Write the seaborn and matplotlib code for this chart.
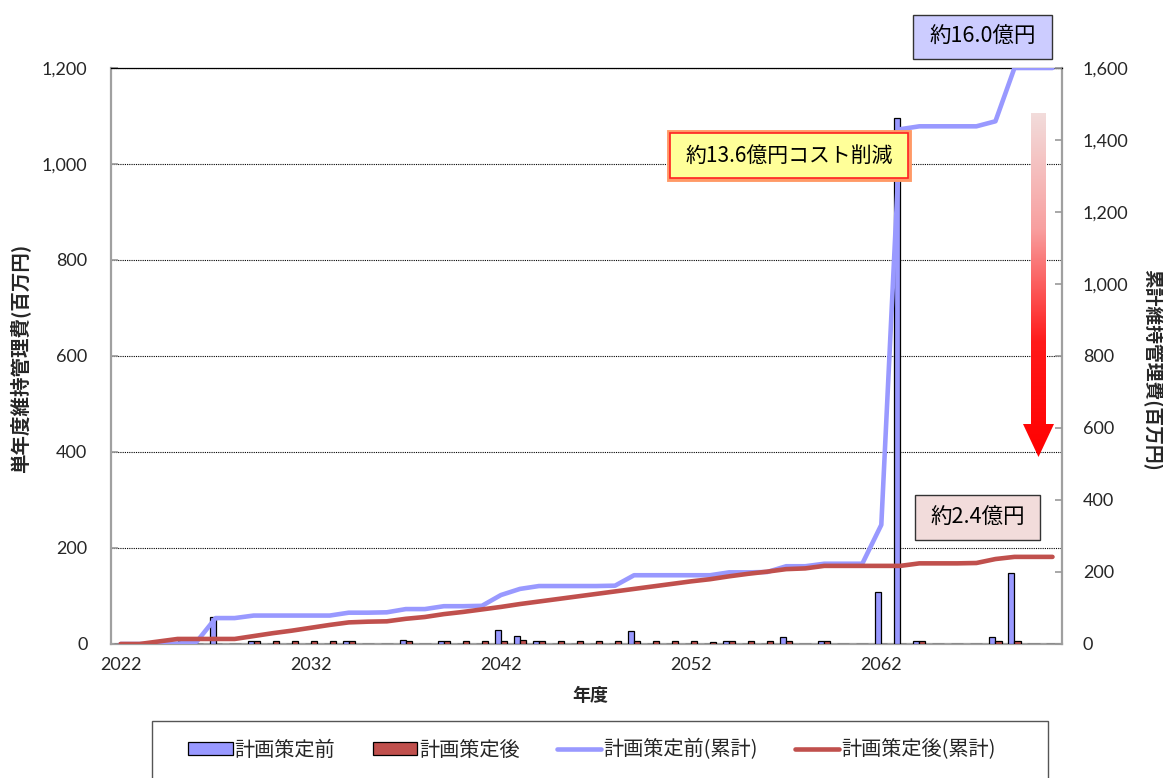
import numpy as np
import pandas as pd
import matplotlib
matplotlib.use("Agg")
import matplotlib.pyplot as plt
import seaborn as sns
from matplotlib.patches import Rectangle, Polygon, Patch
from matplotlib.lines import Line2D
from matplotlib.colors import LinearSegmentedColormap

# ---- data (百万円) ----
years = list(range(2022, 2072))

cost_before = [0, 0, 0, 2, 5, 57, 0, 7, 0, 0,
               0, 0, 7, 0.5, 0.5, 9, 1, 7, 0, 1,
               29, 17, 7, 0, 0, 0, 1, 27, 0, 0,
               0, 0, 7, 0, 1, 15, 0, 7, 0, 0,
               108, 1096, 7, 0, 0, 0.5, 15, 147, 0.5, 0]

cost_after = [0, 0, 7, 7, 0, 0, 0, 7, 6, 6,
              6, 6, 7, 0, 0.5, 6, 0, 7, 6, 6,
              6, 8, 7, 6, 6, 6, 7, 7, 6, 6,
              6, 4, 7, 6, 6, 6, 0, 7, 0, 0,
              0, 0, 7, 0, 0, 0.5, 6, 6, 0.5, 0]

cum_before = [0, 0, 0, 1, 6, 72, 72, 79, 79, 79,
              79, 79, 87, 87, 88, 97, 97, 105, 105, 106,
              136, 153, 161, 161, 161, 161, 162, 191, 191, 191,
              191, 191, 199, 199, 200, 216, 216, 223, 223, 223,
              331, 1430, 1438, 1438, 1438, 1438, 1452, 1600, 1600, 1600]

cum_after = [0, 0, 7, 14, 14, 14, 14, 22, 30, 37,
             45, 53, 60, 62, 63, 70, 75, 83, 89, 96,
             103, 111, 118, 125, 132, 139, 146, 153, 160, 167,
             174, 180, 188, 195, 201, 208, 210, 217, 217, 217,
             217, 217, 224, 224, 224, 225, 236, 242, 242, 242]

series_names = ["計画策定前", "計画策定後"]
line_names = ["計画策定前(累計)", "計画策定後(累計)"]
left_ticks = [0, 200, 400, 600, 800, 1000, 1200]
right_ticks = [0, 200, 400, 600, 800, 1000, 1200, 1400, 1600]
x_label_years = [2022, 2032, 2042, 2052, 2062]

BLUE = "#9999FF"
RED = "#C0504D"

sns.set_style("white")
plt.rcParams["font.family"] = ["Lato", "Noto Sans CJK JP", "DejaVu Sans"]
JP = ["Noto Sans CJK JP", "DejaVu Sans"]

W, H = 1163, 778
fig = plt.figure(figsize=(W / 100, H / 100), dpi=100)

L, R, T, B = 111, 1062, 68, 644
ax = fig.add_axes([L / W, 1 - B / H, (R - L) / W, (B - T) / H])

df = pd.DataFrame({
    "year": [str(y) for y in years] * 2,
    "value": cost_before + cost_after,
    "series": [series_names[0]] * len(years) + [series_names[1]] * len(years),
})

sns.barplot(data=df, x="year", y="value", hue="series", hue_order=series_names,
            palette=[BLUE, RED], saturation=1, width=0.64, gap=0,
            edgecolor="black", linewidth=0.9, errorbar=None, legend=False,
            ax=ax, zorder=3)

n = len(years)
ax.set_xlim(-0.5, n - 0.5)
ax.set_ylim(0, 1200)
ax.set_yticks(left_ticks)
ax.set_yticklabels([f"{v:,}" for v in left_ticks], fontsize=13)
ax.set_xticks([years.index(y) for y in x_label_years])
ax.set_xticklabels([str(y) for y in x_label_years], fontsize=13)
ax.set_xticks([i + 4.5 for i in range(0, n - 5, 5)], minor=True)
ax.tick_params(axis="x", which="major", length=0, pad=9)
ax.tick_params(axis="x", which="minor", direction="in", length=5, color="#999999", width=1.2)
ax.tick_params(axis="y", direction="in", length=5, color="#999999", width=1.2, pad=17)

ax.grid(axis="y", linestyle=(0, (1, 1)), color="black", linewidth=0.8, zorder=0)
ax.set_axisbelow(True)
for side in ["left", "bottom", "right"]:
    ax.spines[side].set_color("#A0A0A0")
    ax.spines[side].set_linewidth(1.6)
ax.spines["top"].set_color("black")
ax.spines["top"].set_linewidth(0.9)

ax.set_xlabel("年度", fontsize=13, fontweight="bold", family=JP)
ax.xaxis.set_label_coords((590 - L) / (R - L), -(686 - B) / (B - T))
ax.xaxis.label.set_va("top")
ax.set_ylabel("単年度維持管理費(百万円)", fontsize=14, fontweight="bold", family=JP)
ax.yaxis.set_label_coords(-(L - 30) / (R - L), (B - 358) / (B - T))

# cumulative lines on the secondary axis
ax2 = ax.twinx()
idx = np.arange(n)
sns.lineplot(x=idx, y=cum_before, ax=ax2, color=BLUE, linewidth=3.3, legend=False)
sns.lineplot(x=idx, y=cum_after, ax=ax2, color=RED, linewidth=3.3, legend=False)
ax2.set_xlim(-0.5, n - 0.5)
ax2.set_ylim(0, 1600)
ax2.set_yticks(right_ticks)
ax2.set_yticklabels([f"{v:,}" for v in right_ticks], fontsize=13)
ax2.tick_params(axis="y", direction="in", length=5, color="#999999", width=1.2, pad=15)
for s in ax2.spines.values():
    s.set_visible(False)
ax2.set_ylabel("累計維持管理費(百万円)", fontsize=13.5, fontweight="bold", family=JP,
               rotation=270, va="center")
ax2.yaxis.set_label_coords(1 + (1152 - R) / (R - L), (B - 370) / (B - T))

# overlay in pixel coordinates for callouts, arrow and legend frame
ov = fig.add_axes([0, 0, 1, 1], zorder=10)
ov.set_xlim(0, W)
ov.set_ylim(H, 0)
ov.axis("off")
ov.patch.set_alpha(0)


def callout(x0, y0, x1, y1, text, face, edge, lw=1.0, size=15.5):
    ov.add_patch(Rectangle((x0, y0), x1 - x0, y1 - y0, facecolor=face,
                           edgecolor=edge, linewidth=lw))
    ov.text((x0 + x1) / 2, (y0 + y1) / 2, text, ha="center", va="center",
            fontsize=size, family=JP, color="black")


callout(913, 15, 1052, 59, "約16.0億円", "#CCCCFF", "#333333")
ov.add_patch(Rectangle((669, 132), 240, 47, facecolor="none", edgecolor="#FF9966", linewidth=3.5))
callout(670, 133, 908, 178, "約13.6億円コスト削減", "#FFFF99", "#FF2020", lw=1.2, size=15)
callout(915, 495, 1040, 540, "約2.4億円", "#F2DCDB", "#333333")

# gradient arrow
arrow = Polygon([(1031, 113), (1046, 113), (1046, 424), (1054, 424),
                 (1038.5, 457), (1023, 424), (1031, 424)], closed=True,
                facecolor="none", edgecolor="none")
ov.add_patch(arrow)
grad = LinearSegmentedColormap.from_list("fade", ["#F2DCDB", "#F8A0A0", "#FF1A1A", "#FF0000"])
img = ov.imshow(np.linspace(0, 1, 256).reshape(-1, 1), cmap=grad, aspect="auto",
                extent=[1023, 1054, 457, 113], zorder=5)
img.set_clip_path(arrow)
ov.set_xlim(0, W)
ov.set_ylim(H, 0)

# legend
ov.add_patch(Rectangle((152, 721), 896, 80, facecolor="white", edgecolor="#555555", linewidth=1.0))
handles = [Patch(facecolor=BLUE, edgecolor="black", linewidth=0.9),
           Patch(facecolor=RED, edgecolor="black", linewidth=0.9),
           Line2D([], [], color=BLUE, linewidth=3.3),
           Line2D([], [], color=RED, linewidth=3.3)]
leg = fig.legend(handles, series_names + line_names, loc="center",
                 bbox_to_anchor=(592 / W, 1 - 750 / H), ncol=4, frameon=False,
                 prop={"family": JP, "size": 14.5}, handlelength=2.2, handleheight=0.6,
                 handletextpad=0.1, columnspacing=1.85)
leg.set_zorder(20)

fig.savefig("out.png", dpi=100)
